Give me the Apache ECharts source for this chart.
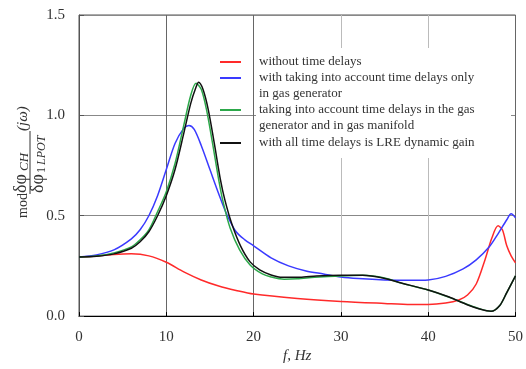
<!DOCTYPE html>
<html><head><meta charset="utf-8">
<script src="https://cdn.jsdelivr.net/npm/echarts@6/dist/echarts.min.js"></script>
<style>html,body{margin:0;padding:0;background:#fff}#c{width:526px;height:369px}</style>
</head><body><div id="c"></div>
<script>
const seriesNames = [
  'without time delays',
  'with taking into account time delays only\nin gas generator',
  'taking into account time delays in the gas\ngenerator and in gas manifold',
  'with all time delays is LRE dynamic gain'
];
const seriesColors = ['#ff2a2a', '#3a3aff', '#2ca84a', '#111111'];

const redF = [0, 2, 4, 6, 8, 10, 12, 14, 16, 18, 20, 25, 30, 35, 38, 40, 42, 43.5, 44.5, 45.5, 46.5, 47.3, 48, 48.5, 49, 49.5, 50];
const redV = [0.295, 0.300, 0.307, 0.310, 0.300, 0.268, 0.220, 0.180, 0.150, 0.128, 0.110, 0.088, 0.073, 0.063, 0.058, 0.058, 0.065, 0.080, 0.105, 0.160, 0.280, 0.390, 0.450, 0.430, 0.350, 0.300, 0.265];

const blueF = [0, 2, 4, 6, 7, 8, 9, 10, 11, 12, 12.6, 13.2, 14, 15, 16, 17, 18, 19, 20, 22, 24, 26, 28, 30, 32, 35, 38, 40, 42, 44, 45.5, 47, 48, 49, 49.5, 50];
const blueV = [0.295, 0.305, 0.330, 0.385, 0.430, 0.500, 0.600, 0.730, 0.860, 0.935, 0.950, 0.930, 0.850, 0.730, 0.610, 0.500, 0.420, 0.380, 0.350, 0.290, 0.250, 0.225, 0.210, 0.195, 0.187, 0.180, 0.178, 0.180, 0.198, 0.235, 0.280, 0.345, 0.410, 0.480, 0.510, 0.490];

const greenF = [0, 2, 4, 6, 7, 8, 9, 10, 11, 12, 12.8, 13.4, 14, 14.6, 15.3, 16, 16.5, 17.3, 18.4, 19.6, 21, 22, 23.5, 25, 27, 30, 32.5, 35, 37, 40, 42.5, 44.5, 46, 47.2, 48.2, 49, 50];
const greenV = [0.295, 0.300, 0.315, 0.345, 0.380, 0.430, 0.520, 0.620, 0.760, 0.950, 1.100, 1.160, 1.130, 1.030, 0.860, 0.680, 0.570, 0.440, 0.330, 0.255, 0.210, 0.195, 0.184, 0.186, 0.193, 0.200, 0.203, 0.190, 0.163, 0.130, 0.092, 0.058, 0.035, 0.024, 0.053, 0.117, 0.200];

const blackF = [0, 2, 4, 6, 7, 8, 9, 10, 11, 12, 12.8, 13.4, 13.7, 14.2, 14.8, 15.5, 16.2, 16.7, 17.5, 18.5, 19.6, 20.7, 22, 23.3, 25.3, 27.2, 30, 32.5, 34.8, 36.7, 40, 42.4, 44.4, 45.9, 47.2, 48.2, 49, 50];
const blackV = [0.295, 0.298, 0.310, 0.338, 0.370, 0.420, 0.500, 0.600, 0.730, 0.910, 1.060, 1.140, 1.165, 1.130, 1.030, 0.860, 0.680, 0.580, 0.460, 0.350, 0.270, 0.230, 0.205, 0.193, 0.193, 0.200, 0.203, 0.203, 0.190, 0.167, 0.130, 0.095, 0.058, 0.035, 0.024, 0.053, 0.117, 0.200];

const xTicks = [0, 10, 20, 30, 40, 50];
const yTicks = ['0.0', '0.5', '1.0', '1.5'];

const allF = [redF, blueF, greenF, blackF];
const allV = [redV, blueV, greenV, blackV];

const FONT = 'Liberation Serif';
const chart = echarts.init(document.getElementById('c'), null, {renderer: 'canvas'});

const legendTops = [54, 54, 86, 135];
const legends = seriesNames.map((n, i) => ({
  data: [n], left: 220, top: legendTops[i], orient: 'vertical', padding: 0,
  itemWidth: 21, itemHeight: 2, icon: 'rect', selectedMode: false,
  formatter: name => (name.indexOf('\n') >= 0 ? ' \n' + name : name),
  textStyle: {fontFamily: FONT, fontSize: 13, color: '#333', lineHeight: 16, padding: [0, 0, 0, 13]}
}));

const series = seriesNames.map((n, i) => ({
  type: 'line', name: n, data: allF[i].map((f, j) => [f, allV[i][j]]),
  smooth: 0.3, showSymbol: false, symbol: 'none',
  lineStyle: {width: 1.5, color: seriesColors[i]}, itemStyle: {color: seriesColors[i]},
  emphasis: {disabled: true}
}));

// rotated y-axis title: local (u, v) -> screen (v, -u)
const yTitle = {
  type: 'group', x: 0, y: 0, rotation: Math.PI / 2, z: 5,
  children: [
    {type: 'text', style: {text: 'mod', x: -218, y: 23, font: '14px "Liberation Serif"', fill: '#333', align: 'left', verticalAlign: 'middle'}},
    {type: 'text', style: {text: 'δφ', x: -193, y: 21, font: '18px "Liberation Serif"', fill: '#333', align: 'left', verticalAlign: 'middle'}},
    {type: 'text', style: {text: 'CH', x: -171, y: 25, font: 'italic 13px "Liberation Serif"', fill: '#333', align: 'left', verticalAlign: 'middle'}},
    {type: 'line', shape: {x1: -194, y1: 30, x2: -131, y2: 30}, style: {stroke: '#333', lineWidth: 1}},
    {type: 'text', style: {text: 'δφ', x: -193, y: 38, font: '18px "Liberation Serif"', fill: '#333', align: 'left', verticalAlign: 'middle'}},
    {type: 'text', style: {text: '1', x: -173, y: 42, font: '12px "Liberation Serif"', fill: '#333', align: 'left', verticalAlign: 'middle'}},
    {type: 'text', style: {text: 'LPOT', x: -165, y: 42, font: 'italic 12px "Liberation Serif"', fill: '#333', align: 'left', verticalAlign: 'middle'}},
    {type: 'text', style: {text: '(jω)', x: -131, y: 23, font: 'italic 15px "Liberation Serif"', fill: '#333', align: 'left', verticalAlign: 'middle'}}
  ]
};

chart.setOption({
  backgroundColor: '#fff',
  animation: false,
  grid: {left: 79, right: 10, top: 15, bottom: 45, show: true, borderColor: '#555', borderWidth: 1, backgroundColor: 'transparent'},
  legend: legends,
  xAxis: {
    type: 'value', min: xTicks[0], max: xTicks[xTicks.length - 1], interval: 10,
    name: 'f, Hz', nameLocation: 'middle', nameGap: 30,
    nameTextStyle: {fontFamily: FONT, fontSize: 15, fontStyle: 'italic', color: '#333'},
    axisLine: {lineStyle: {color: '#000', width: 1}},
    axisTick: {inside: true, length: 4, lineStyle: {color: '#000'}},
    axisLabel: {margin: 13, fontFamily: FONT, fontSize: 15, color: '#333'},
    splitLine: {show: true, lineStyle: {color: ['#666', '#666', '#666', '#bbb', '#bbb', '#666'], width: 1}}
  },
  yAxis: {
    type: 'value', min: 0, max: 1.5, interval: 0.5,
    axisLine: {show: true, lineStyle: {color: '#555', width: 1}},
    axisTick: {show: true, inside: true, length: 5, lineStyle: {color: '#555'}},
    axisLabel: {margin: 14, fontFamily: FONT, fontSize: 15, color: '#333',
      formatter: v => yTicks[Math.round(v / 0.5)]},
    splitLine: {show: true, lineStyle: {color: '#888', width: 1}}
  },
  graphic: [
    {type: 'rect', shape: {x: 256, y: 48, width: 255, height: 110}, style: {fill: '#fff'}, z: 1, silent: true},
    yTitle
  ],
  series: series
});
</script>
</body></html>
